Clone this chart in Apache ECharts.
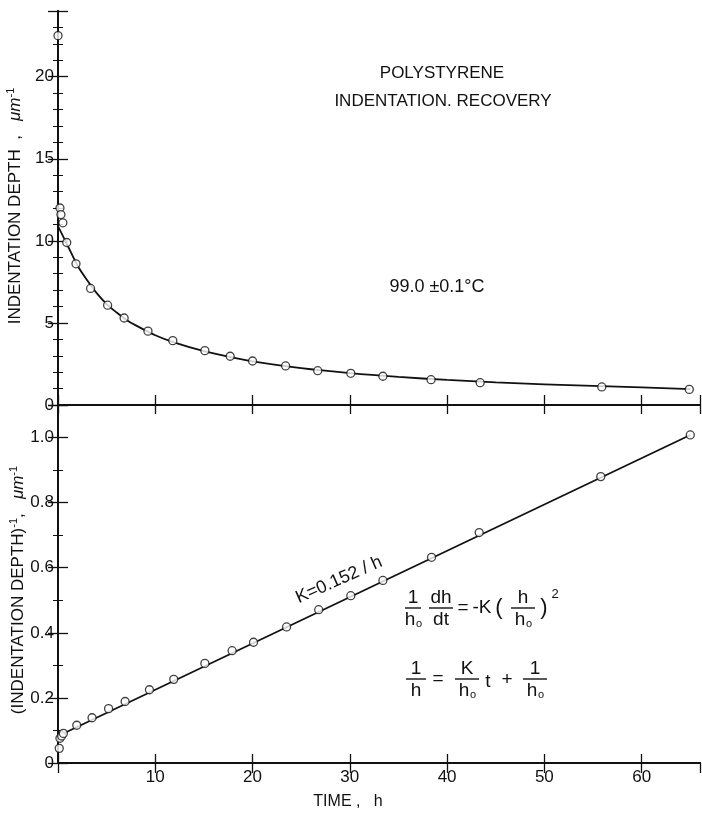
<!DOCTYPE html>
<html>
<head>
<meta charset="utf-8">
<title>Polystyrene indentation recovery</title>
<script src="https://cdn.jsdelivr.net/npm/echarts@6/dist/echarts.min.js"></script>
<style>
  html, body { margin: 0; padding: 0; background: #fff; }
  #chart { width: 702px; height: 818px; }
</style>
</head>
<body>
<div id="chart"></div>
<script>
// measured points, top panel: time (h) vs indentation depth (um)
const depthTime = [0, 0.2, 0.3, 0.5, 0.9, 1.85, 3.35, 5.1, 6.8, 9.25, 11.8, 15.1, 17.7, 20.0, 23.4, 26.7, 30.1, 33.4, 38.35, 43.4, 55.9, 64.9]
const depthValues = [22.5, 12.0, 11.6, 11.1, 9.9, 8.6, 7.1, 6.08, 5.3, 4.5, 3.92, 3.31, 2.97, 2.68, 2.38, 2.09, 1.93, 1.75, 1.54, 1.36, 1.1, 0.95]

// drawn curve through the top panel
const curveTime = [0, 0.5, 1, 2, 3, 4, 5, 6, 7, 8, 10, 12, 15, 18, 20, 25, 30, 35, 40, 45, 50, 55, 60, 65]
const curveDepth = [10.9, 10.3, 9.7, 8.5, 7.6, 6.8, 6.15, 5.65, 5.2, 4.85, 4.25, 3.8, 3.28, 2.88, 2.66, 2.24, 1.94, 1.71, 1.53, 1.38, 1.26, 1.16, 1.07, 0.97]

// bottom panel: reciprocal depth (1/um)
const recipTime = [0.13, 0.2, 0.38, 0.55, 1.93, 3.5, 5.2, 6.9, 9.4, 11.9, 15.1, 17.9, 20.1, 23.5, 26.8, 30.1, 33.4, 38.4, 43.3, 55.8, 65.0]
const recipValues = [0.045, 0.076, 0.083, 0.091, 0.116, 0.139, 0.167, 0.189, 0.225, 0.257, 0.306, 0.345, 0.371, 0.418, 0.471, 0.514, 0.561, 0.632, 0.708, 0.88, 1.008]

// straight fit line in the bottom panel
const fitTime = [0, 0.5, 65]
const fitRecip = [0.078, 0.09, 1.008]

const timeTicks = [0, 66, 10]
const depthTicks = [0, 24, 5]
const recipTicks = [0, 1.1, 0.2]

const FONT = '"Liberation Sans", Arial, sans-serif'
const INK = '#111'

const pairs = (xs, ys) => xs.map((x, i) => [x, ys[i]])

const xAxisBase = (gridIndex, position, tickLen, showLabel) => ({
  type: 'value',
  gridIndex,
  position,
  min: timeTicks[0],
  max: timeTicks[1],
  interval: timeTicks[2],
  axisLine: { lineStyle: { color: INK, width: 2 } },
  axisTick: { inside: true, length: tickLen, lineStyle: { color: INK, width: 1.3 } },
  axisLabel: {
    show: showLabel,
    showMaxLabel: false,
    color: INK,
    fontFamily: FONT,
    fontSize: 17,
    margin: 6,
    formatter: (v) => (v === 0 ? '' : String(v)),
  },
  splitLine: { show: false },
})

const yAxisBase = (gridIndex, position, ticks, minorSplit, showLabel, fmt) => ({
  type: 'value',
  gridIndex,
  position,
  min: ticks[0],
  max: ticks[1],
  interval: ticks[2],
  axisLine: { lineStyle: { color: INK, width: 2 } },
  axisTick: { inside: true, length: 10, lineStyle: { color: INK, width: 1.3 } },
  minorTick: { show: true, splitNumber: minorSplit, length: 5, lineStyle: { color: INK, width: 1 } },
  axisLabel: { show: showLabel, showMaxLabel: false, color: INK, fontFamily: FONT, fontSize: 17, margin: 4, formatter: fmt },
  splitLine: { show: false },
  minorSplitLine: { show: false },
})

const txt = (text, x, y, size, extra) => ({
  type: 'text',
  x,
  y,
  style: Object.assign({
    text,
    fill: INK,
    font: `${size}px ${FONT}`,
    textAlign: 'center',
    textVerticalAlign: 'middle',
  }, extra || {}),
})

// "h" with a small "o" subscript
const hSub = (cx, y, size) => [
  txt('h', cx - 3, y, size),
  txt('o', cx + 6, y + 4, Math.round(size * 0.6)),
]

const frac = (cx, barY, half, num, den, size) => {
  const parts = [
    { type: 'line', shape: { x1: cx - half, y1: barY, x2: cx + half, y2: barY }, style: { stroke: INK, lineWidth: 1.4 } },
    txt(num, cx, barY - 10, size),
  ]
  if (den === 'ho') parts.push(...hSub(cx, barY + 12, size))
  else parts.push(txt(den, cx, barY + 12, size))
  return parts
}

const titleRich = {
  t: { fontFamily: FONT, fontSize: 17, fill: INK, lineHeight: 20 },
  m: { fontFamily: FONT, fontSize: 17, fontStyle: 'italic', fill: INK, lineHeight: 20 },
  s: { fontFamily: FONT, fontSize: 11, fill: INK, verticalAlign: 'top', lineHeight: 11 },
}

const eqSize = 19
const graphics = [
  txt('POLYSTYRENE', 442, 73, 17),
  txt('INDENTATION. RECOVERY', 443, 101, 17),
  txt('99.0 \u00b10.1\u00b0C', 437, 287, 18),
  txt('TIME ,   h', 348, 802, 16),
  {
    type: 'text',
    x: 15,
    y: 206,
    rotation: Math.PI / 2,
    style: {
      text: '{t|INDENTATION DEPTH  ,   }{m|\u03bcm}{s|-1}',
      textAlign: 'center',
      textVerticalAlign: 'middle',
      rich: titleRich,
    },
  },
  {
    type: 'text',
    x: 18,
    y: 590,
    rotation: Math.PI / 2,
    style: {
      text: '{t|(INDENTATION DEPTH)}{s|-1}{t|,   }{m|\u03bcm}{s|-1}',
      textAlign: 'center',
      textVerticalAlign: 'middle',
      rich: titleRich,
    },
  },
  {
    type: 'text',
    x: 339,
    y: 580,
    rotation: 24 * Math.PI / 180,
    style: { text: 'K=0.152 / h', fill: INK, font: `18px ${FONT}`, textAlign: 'center', textVerticalAlign: 'middle' },
  },
  // 1/h0 dh/dt = -K (h/h0)^2
  ...frac(413, 608, 8, '1', 'ho', eqSize),
  ...frac(441, 608, 12, 'dh', 'dt', eqSize),
  txt('=', 463, 608, eqSize),
  txt('-K', 482, 608, eqSize),
  txt('(', 499, 608, 22),
  ...frac(523, 608, 12, 'h', 'ho', eqSize),
  txt(')', 544, 608, 22),
  txt('2', 555, 594, 13),
  // 1/h = K/h0 t + 1/h0
  ...frac(416, 679, 10, '1', 'h', eqSize),
  txt('=', 438, 679, eqSize),
  ...frac(467, 679, 12, 'K', 'ho', eqSize),
  txt('t', 488, 682, eqSize),
  txt('+', 507, 680, eqSize),
  ...frac(535, 679, 12, '1', 'ho', eqSize),
]

const marker = {
  symbol: 'circle',
  symbolSize: 8,
  itemStyle: { color: '#fff', borderColor: INK, borderWidth: 1.3 },
}

const chart = echarts.init(document.getElementById('chart'), null, { renderer: 'canvas' })
chart.setOption({
  animation: false,
  backgroundColor: '#fff',
  grid: [
    { left: 58, right: 2, top: 11, height: 394 },
    { left: 58, right: 2, top: 405, height: 358 },
  ],
  xAxis: [
    xAxisBase(0, 'bottom', 10, false),
    xAxisBase(0, 'top', 9, false),
    xAxisBase(1, 'top', 10, false),
    xAxisBase(1, 'bottom', 9, true),
  ],
  yAxis: [
    yAxisBase(0, 'left', depthTicks, 5, true),
    yAxisBase(0, 'right', depthTicks, 5, false),
    yAxisBase(1, 'left', recipTicks, 2, true, (v) => (v === 0 ? '0' : v.toFixed(1))),
    yAxisBase(1, 'right', recipTicks, 2, false),
  ],
  series: [
    {
      name: 'curve',
      type: 'line',
      xAxisIndex: 0,
      yAxisIndex: 0,
      data: pairs(curveTime, curveDepth),
      smooth: 0.3,
      showSymbol: false,
      lineStyle: { color: INK, width: 1.8 },
      z: 2,
    },
    Object.assign({
      name: 'depth',
      type: 'scatter',
      xAxisIndex: 0,
      yAxisIndex: 0,
      data: pairs(depthTime, depthValues),
      z: 3,
    }, marker),
    {
      name: 'fit',
      type: 'line',
      xAxisIndex: 3,
      yAxisIndex: 2,
      data: pairs(fitTime, fitRecip),
      showSymbol: false,
      lineStyle: { color: INK, width: 1.8 },
      z: 2,
    },
    Object.assign({
      name: 'reciprocal',
      type: 'scatter',
      xAxisIndex: 3,
      yAxisIndex: 2,
      data: pairs(recipTime, recipValues),
      z: 3,
    }, marker),
  ],
  graphic: graphics,
})
</script>
</body>
</html>
